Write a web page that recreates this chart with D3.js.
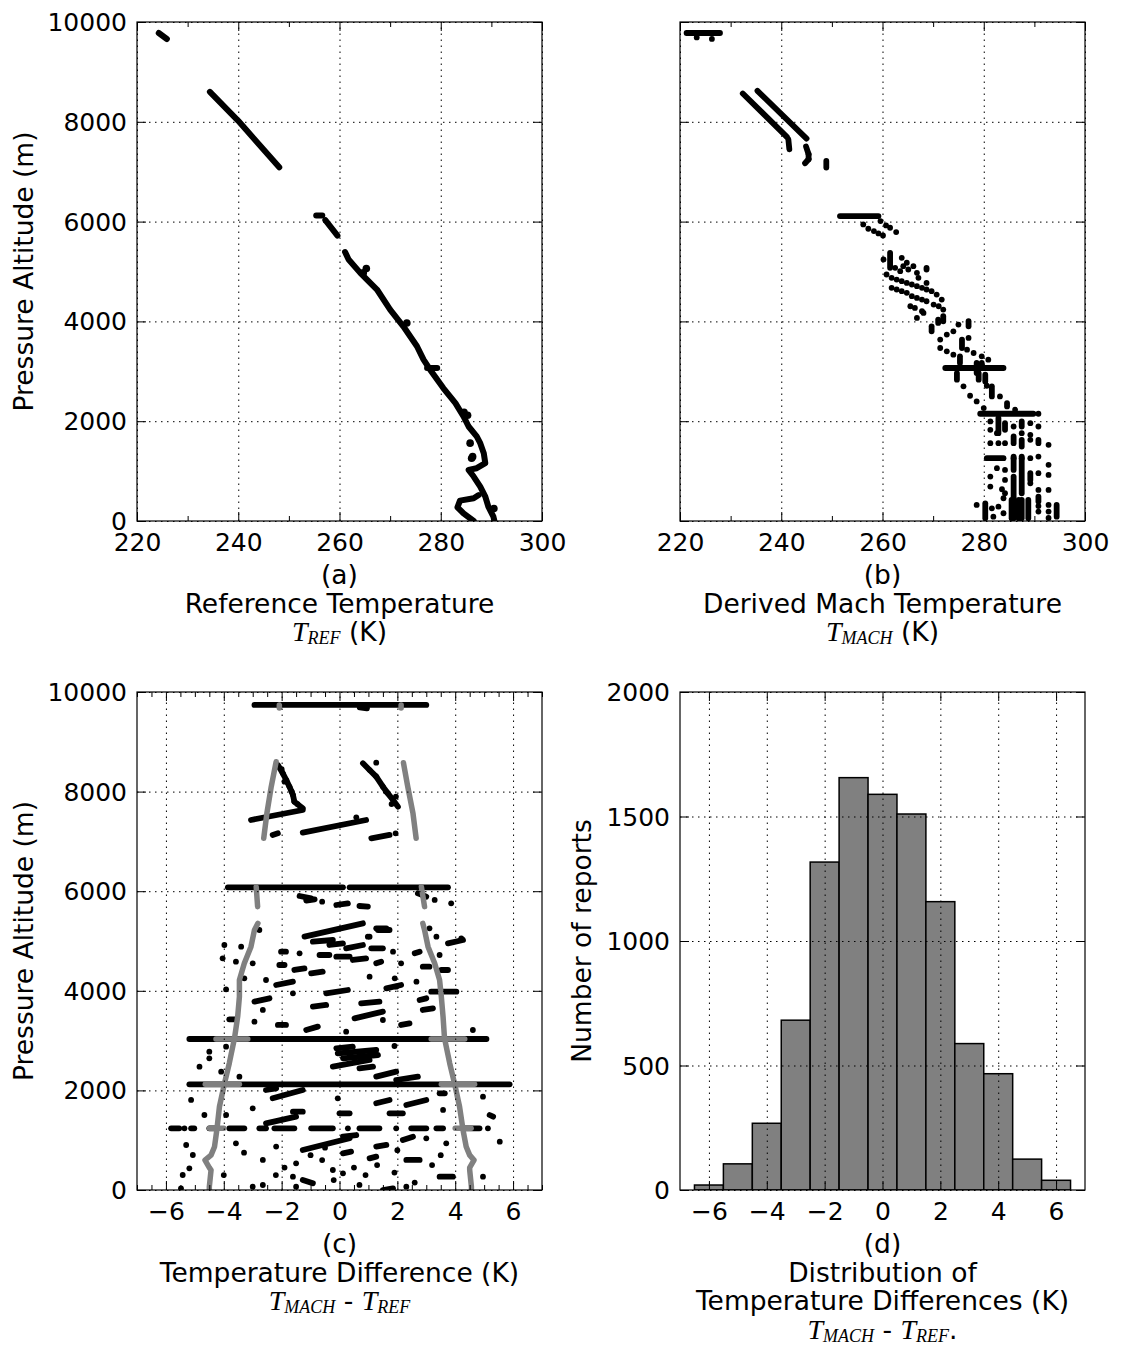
<!DOCTYPE html>
<html>
<head>
<meta charset="utf-8">
<script src="https://cdn.jsdelivr.net/npm/d3@7"></script>
<style>
  body { margin: 0; background: #fff; }
  text { font-family: "DejaVu Sans", sans-serif; }
</style>
</head>
<body>
<script>
// ---- data ----

// (a) reference temperature traces, [T (K), altitude (m)]
const refTraceTop = [[224.3, 9780], [225.9, 9660]];
const refTraceUpper = [[234.4, 8600], [240.0, 8020], [248.1, 7088]];
const refTraceShelf = [[255.4, 6120], [256.6, 6120]];
const refTraceShelf2 = [[257.2, 6030], [259.6, 5720]];
const refTraceMain = [[261.1, 5390], [261.8, 5241], [264.1, 4973], [267.4, 4639], [270.0, 4237],
  [272.6, 3902], [275.3, 3501], [276.6, 3233], [277.9, 3032], [280.5, 2664], [282.9, 2363],
  [284.5, 2095], [285.5, 1894], [287.1, 1694], [287.8, 1560], [288.5, 1359], [288.8, 1158],
  [287.1, 1058], [285.5, 1024], [286.5, 891], [287.8, 690], [288.8, 489], [289.4, 288],
  [290.4, 87], [290.6, 0]];
const refTraceLoop = [[287.5, 520], [286.5, 456], [283.8, 409], [283.3, 275], [284.5, 155], [286.5, 0]];
const refTraceNub = [[277.3, 3066], [279.3, 3066]];
const refBlobs = [[264.7, 4973], [265.3, 5060], [273.3, 3969], [284.6, 2180], [285.3, 2120],
  [285.8, 1560], [286.1, 1259], [286.3, 1290], [290.5, 250]];

// (b) derived Mach temperature, marks [T1, alt1, T2, alt2] (dots when ends match)
const machMarks = [
  [221.3, 9780, 227.9, 9780], [223.3, 9690, 223.3, 9690], [226.3, 9660, 226.3, 9660],
  [232.4, 8568, 241.1, 7698], [241.4, 7651, 241.6, 7450],
  [235.3, 8621, 245.0, 7664], [244.9, 7503, 245.4, 7350], [245.4, 7350, 245.4, 7249], [245.4, 7249, 244.7, 7169],
  [248.9, 7216, 248.9, 7082],
  [251.6, 6111, 259.2, 6111],
  [259.6, 6011, 259.6, 6011], [260.7, 5924, 260.7, 5924], [261.5, 5877, 261.5, 5877], [262.7, 5790, 262.7, 5790],
  [256.2, 5944, 256.2, 5944], [257.2, 5857, 257.2, 5857], [258.3, 5810, 258.3, 5810], [259.2, 5763, 259.2, 5763],
  [260.1, 5723, 260.1, 5723],
  [260.2, 5241, 260.2, 5241], [261.5, 5375, 261.5, 5074], [263.8, 5275, 263.8, 5275], [264.8, 5175, 264.8, 5175],
  [266.1, 5107, 266.1, 5107], [268.7, 5074, 268.7, 5074],
  [262.5, 5074, 262.5, 5074], [263.5, 5007, 263.5, 5007], [264.1, 5107, 264.1, 5107], [265.1, 5040, 265.1, 5040],
  [266.8, 4973, 266.8, 4973], [268.7, 5040, 268.7, 5040], [267.1, 4873, 267.1, 4873], [268.7, 4772, 268.7, 4772],
  [260.8, 4940, 260.8, 4940], [261.8, 4873, 261.8, 4873], [262.8, 4839, 262.8, 4839], [263.8, 4806, 263.8, 4806],
  [264.8, 4772, 264.8, 4772], [265.8, 4739, 265.8, 4739], [266.8, 4706, 266.8, 4706], [267.8, 4672, 267.8, 4672],
  [268.7, 4639, 268.7, 4639], [269.7, 4605, 269.7, 4605], [270.7, 4538, 270.7, 4538], [271.7, 4438, 271.7, 4438],
  [261.8, 4672, 261.8, 4672], [262.8, 4639, 262.8, 4639], [263.8, 4605, 263.8, 4605], [264.8, 4572, 264.8, 4572],
  [265.8, 4505, 265.8, 4505], [266.8, 4471, 266.8, 4471], [267.8, 4438, 267.8, 4438], [268.7, 4404, 268.7, 4404],
  [270.1, 4337, 270.1, 4337], [271.1, 4304, 271.1, 4304], [272.0, 4237, 272.0, 4237],
  [265.5, 4304, 265.5, 4304], [266.4, 4270, 266.4, 4270], [266.8, 4070, 266.8, 4070], [267.8, 4204, 267.8, 4204],
  [268.1, 4170, 268.1, 4170],
  [272.0, 4103, 272.0, 4003], [271.0, 4036, 271.0, 3969], [269.7, 3902, 269.7, 3802], [277.0, 4003, 277.0, 3902],
  [271.4, 3635, 271.4, 3635], [272.7, 3735, 272.7, 3735], [274.0, 3802, 274.0, 3802], [275.0, 3936, 275.0, 3936],
  [277.0, 3668, 277.0, 3668], [275.7, 3635, 275.7, 3467],
  [271.4, 3467, 271.4, 3467], [272.7, 3400, 272.7, 3400], [274.0, 3333, 274.0, 3333], [276.7, 3434, 276.7, 3434],
  [278.0, 3367, 278.0, 3367], [279.6, 3300, 279.6, 3300], [280.9, 3233, 280.9, 3233],
  [275.3, 3300, 275.3, 3166], [278.6, 3166, 278.6, 2965], [279.6, 3166, 279.6, 3066],
  [272.4, 3066, 283.9, 3066],
  [274.7, 2965, 274.7, 2832], [279.0, 2965, 279.0, 2832], [280.3, 2932, 280.3, 2798],
  [276.0, 2698, 276.0, 2698], [277.3, 2510, 277.3, 2510], [278.6, 2397, 278.6, 2397], [280.6, 2710, 280.6, 2710],
  [281.6, 2698, 281.6, 2497], [283.2, 2497, 283.2, 2497], [284.6, 2363, 284.6, 2296],
  [280.0, 2263, 280.0, 2263], [286.2, 2229, 286.2, 2229],
  [279.3, 2149, 289.8, 2149], [290.8, 2149, 290.8, 2149],
  [282.9, 2062, 282.9, 1761], [284.2, 1961, 284.2, 1828],
  [285.9, 1694, 285.9, 1560], [285.9, 1292, 285.9, 1024], [285.9, 890, 285.9, 54],
  [287.5, 1995, 287.5, 1894], [287.5, 1627, 287.5, 1493], [287.5, 1292, 287.5, 556], [287.5, 422, 287.5, 54],
  [289.2, 958, 289.2, 824], [288.8, 422, 288.8, 54], [286.9, 422, 286.9, 54], [285.5, 422, 285.5, 54],
  [280.3, 355, 280.3, 54], [294.4, 322, 294.4, 87], [290.8, 489, 290.8, 389], [290.8, 1627, 290.8, 1560],
  [280.6, 1259, 283.9, 1259],
  [281.3, 1995, 281.3, 1995], [285.9, 1894, 285.9, 1894], [289.2, 1961, 289.2, 1961], [290.8, 1894, 290.8, 1894],
  [281.3, 1828, 281.3, 1828], [282.6, 1761, 282.6, 1761], [287.5, 1761, 287.5, 1761], [289.2, 1727, 289.2, 1727],
  [281.3, 1560, 281.3, 1560], [282.9, 1560, 282.9, 1560], [284.2, 1560, 284.2, 1560], [289.2, 1627, 289.2, 1627],
  [292.8, 1526, 292.8, 1526],
  [285.9, 1259, 285.9, 1259], [287.5, 1259, 287.5, 1259], [289.2, 1259, 289.2, 1259], [290.8, 1292, 290.8, 1292],
  [282.6, 1058, 282.6, 1058], [284.2, 1024, 284.2, 1024], [290.8, 958, 290.8, 958], [292.8, 1125, 292.8, 1125],
  [292.8, 924, 292.8, 924],
  [281.3, 891, 281.3, 891], [284.2, 824, 284.2, 824], [281.3, 690, 281.3, 690], [283.6, 636, 283.6, 636],
  [289.2, 757, 289.2, 757], [290.8, 623, 290.8, 623], [292.8, 623, 292.8, 623],
  [278.6, 322, 278.6, 322], [281.6, 255, 281.6, 255], [282.9, 288, 282.9, 288], [283.9, 456, 283.9, 456],
  [292.8, 322, 292.8, 322], [292.8, 188, 292.8, 188], [290.8, 188, 290.8, 188], [283.9, 155, 283.9, 155],
  [281.9, 87, 281.9, 87], [284.2, 556, 284.2, 556], [290.8, 300, 290.8, 300], [292.8, 60, 292.8, 60]
];

// (c) temperature difference, black marks [d1, alt1, d2, alt2]
const diffMarks = [
  [-2.94, 9740, 3.0, 9740], [0.7, 9690, 0.95, 9670],
  [-2.13, 8534, -1.96, 8367], [-1.96, 8367, -1.84, 8233], [-1.84, 8233, -1.73, 8099], [-1.73, 8099, -1.61, 7932],
  [-1.61, 7932, -1.56, 7798], [-1.56, 7798, -1.27, 7664],
  [-1.9, 8200, -1.9, 8200], [-1.65, 8000, -1.65, 8000], [-1.45, 7750, -1.45, 7750], [-2.0, 8450, -2.0, 8450],
  [-3.06, 7430, -1.27, 7631], [-2.31, 7129, -2.13, 7162], [-1.27, 7176, 0.92, 7430], [0.58, 7484, 0.58, 7484],
  [0.81, 8568, 1.04, 8434], [1.04, 8434, 1.27, 8300], [1.27, 8300, 1.5, 8099], [1.5, 8099, 1.67, 7965],
  [1.67, 7965, 1.85, 7831], [1.85, 7831, 2.02, 7698],
  [1.27, 8580, 1.27, 8580], [1.6, 8000, 1.6, 8000], [1.95, 7900, 1.95, 7900], [1.8, 7750, 1.8, 7750],
  [1.10, 7062, 1.73, 7129], [1.94, 7162, 1.94, 7162],
  [-3.86, 6078, 0.12, 6078], [0.35, 6078, 3.75, 6078],
  [-1.38, 5904, -0.98, 5857], [-1.15, 5810, -0.86, 5837], [-0.11, 5723, 0.29, 5757], [0.69, 5703, 0.98, 5690],
  [2.71, 5958, 3.0, 5891], [-0.6, 5790, -0.6, 5790], [3.29, 5824, 3.29, 5824], [3.86, 5757, 3.86, 5757],
  [-1.21, 5087, 0.81, 5355], [1.27, 5254, 1.62, 5254], [1.04, 5087, 1.04, 5087], [-2.77, 5221, -2.77, 5221],
  [3.11, 5254, 3.11, 5254], [3.35, 5087, 3.35, 5087], [4.21, 5054, 4.21, 5054],
  [-0.92, 4987, -0.23, 5020], [-0.35, 4920, 0.12, 4953], [0.23, 4853, 0.81, 4920], [0.98, 5087, 0.98, 5087],
  [1.33, 5221, 1.73, 5221],
  [-3.98, 4920, -3.98, 4920], [-3.4, 4886, -3.4, 4886], [-4.04, 4652, -4.04, 4652], [-3.58, 4585, -3.58, 4585],
  [-2.02, 4786, -1.85, 4786], [-1.38, 4752, -1.38, 4752], [-0.69, 4719, -0.35, 4719], [-0.11, 4685, 0.35, 4685],
  [0.46, 4619, 0.92, 4652], [1.1, 4853, 1.5, 4853], [1.85, 4786, 1.85, 4786], [1.27, 4552, 1.44, 4585],
  [2.13, 4552, 2.13, 4552], [2.6, 4752, 2.77, 4786], [3.46, 4719, 3.46, 4719], [3.75, 4953, 4.27, 5020],
  [-3.0, 4552, -3.0, 4552], [-2.08, 4518, -1.9, 4518], [-1.56, 4418, -1.21, 4451], [-0.98, 4351, -0.58, 4385],
  [1.04, 4284, 1.04, 4284], [1.91, 4251, 1.91, 4251], [1.96, 4083, 1.96, 4083], [2.88, 4485, 3.11, 4485],
  [3.52, 4418, 3.75, 4418], [-3.29, 4251, -3.29, 4251], [-2.54, 4217, -2.54, 4217], [-2.19, 4117, -1.61, 4184],
  [-0.46, 3949, 0.29, 4016], [1.62, 4050, 2.13, 4117], [2.66, 4184, 2.66, 4184], [-1.61, 3949, -1.61, 3949],
  [-3.92, 4030, -3.92, 4030], [-2.94, 3782, -2.42, 3849], [-0.92, 3682, -0.46, 3715], [0.75, 3749, 1.38, 3782],
  [2.77, 3815, 3.0, 3849], [3.17, 3983, 4.04, 3983], [-2.65, 3615, -2.65, 3615], [0.52, 3447, 1.5, 3581],
  [1.5, 3414, 1.5, 3414], [2.88, 3615, 3.23, 3648], [-3.81, 3427, -3.58, 3427], [-2.94, 3380, -2.94, 3380],
  [-2.13, 3314, -1.85, 3314], [-1.15, 3213, -0.75, 3280], [0.23, 3180, 0.23, 3180], [2.13, 3314, 2.42, 3347],
  [4.61, 3213, 4.61, 3213],
  [-5.19, 3032, 5.08, 3032],
  [-4.5, 2778, -4.5, 2778], [-4.5, 2644, -4.5, 2644], [-4.84, 2477, -4.84, 2477], [-4.09, 2377, -4.09, 2377],
  [-3.92, 2878, -3.92, 2878], [1.9, 2892, 1.9, 2892], [-3.46, 2276, -3.46, 2276],
  [-0.11, 2845, 0.46, 2878], [-0.06, 2744, 1.27, 2811], [0.12, 2644, 1.33, 2711], [-0.23, 2477, 1.04, 2611],
  [0.69, 2444, 1.16, 2477], [1.27, 2276, 1.96, 2377], [1.96, 2209, 2.71, 2276],
  [-5.19, 2122, 5.88, 2122],
  [-2.54, 2008, -2.19, 2042], [-2.31, 1841, -1.27, 2008], [-0.06, 1841, -0.06, 1841], [1.27, 1741, 1.73, 1808],
  [2.31, 1707, 3.0, 1808], [3.46, 1942, 3.64, 1942], [4.96, 1875, 4.96, 1875], [-5.13, 1808, -5.13, 1808],
  [-3.0, 1640, -3.0, 1640], [-2.54, 1339, -1.5, 1473], [-1.61, 1573, -1.27, 1573], [0.0, 1540, 0.35, 1540],
  [1.73, 1540, 2.19, 1540], [3.58, 1607, 3.58, 1607], [5.19, 1506, 5.31, 1473], [-4.67, 1506, -4.67, 1506],
  [-3.92, 1506, -3.92, 1506],
  [-5.82, 1239, -5.54, 1239], [-5.36, 1239, -5.36, 1239], [-5.13, 1239, -5.02, 1239], [-4.5, 1239, -4.21, 1239],
  [-3.81, 1239, -3.29, 1239], [-2.77, 1239, -2.54, 1239], [-2.25, 1239, -1.56, 1239], [-0.98, 1239, -0.23, 1239],
  [0.29, 1239, 0.29, 1239], [0.69, 1239, 1.38, 1239], [1.96, 1239, 1.96, 1239], [2.48, 1239, 3.0, 1239],
  [3.35, 1239, 3.58, 1239], [4.27, 1239, 4.84, 1239], [5.13, 1239, 5.13, 1239],
  [-1.27, 803, 0.35, 1038], [0.12, 1071, 0.58, 1104], [1.27, 871, 1.62, 904], [2.19, 1004, 2.54, 1071],
  [3.0, 1038, 3.0, 1038], [5.54, 971, 5.54, 971],
  [-5.3, 904, -5.3, 904], [-5.07, 703, -5.07, 703], [-5.19, 435, -5.19, 435], [-5.42, 301, -5.42, 301],
  [-5.48, 34, -5.48, 34], [-3.58, 937, -3.58, 937], [-2.19, 871, -2.19, 871],
  [0.12, 736, 0.4, 770], [1.04, 636, 1.27, 670], [2.31, 603, 2.77, 603], [-2.65, 603, -2.65, 603],
  [-1.5, 536, -1.5, 536], [-1.61, 268, -1.61, 268], [-1.5, 67, -1.5, 67], [-0.23, 402, -0.23, 402],
  [0.12, 335, 0.12, 335], [0.69, 101, 0.69, 101], [-1.27, 201, -0.92, 134], [1.5, 0, 1.85, 34],
  [2.31, 67, 2.31, 67], [4.96, 268, 4.96, 268], [3.69, 937, 3.69, 937], [3.46, 268, 3.92, 268],
  [-3.0, 67, -3.0, 67], [-2.65, 100, -2.65, 100], [-2.2, 300, -2.2, 300], [-1.9, 450, -1.9, 450],
  [-0.6, 600, -0.6, 600], [-0.2, 200, -0.2, 200], [0.5, 450, 0.5, 450], [0.9, 300, 0.9, 300],
  [1.3, 500, 1.3, 500], [1.9, 350, 1.9, 350], [2.6, 150, 2.6, 150], [3.2, 500, 3.2, 500],
  [3.5, 700, 3.5, 700], [-3.3, 750, -3.3, 750], [-4.0, 300, -4.0, 300], [2.0, 800, 2.0, 800],
  [-1.0, 700, -1.0, 700], [-0.5, 850, -0.5, 850]
];

// (c) grey envelope curves, [d, alt]
const greyLeftTop = [[-2.08, 9740], [-2.08, 9680]];
const greyRightTop = [[2.13, 9740], [2.13, 9680]];
const greyLeftUpper = [[-2.19, 8601], [-2.36, 8099], [-2.51, 7564], [-2.62, 7062]];
const greyRightUpper = [[2.21, 8581], [2.36, 8099], [2.54, 7564], [2.65, 7062]];
const greyLeftShelf = [[-2.88, 6091], [-2.83, 5690]];
const greyRightShelf = [[2.83, 6091], [2.94, 5690]];
const greyLeftLower = [[-2.82, 5355], [-2.94, 5221], [-3.06, 4886], [-3.29, 4552], [-3.46, 4217], [-3.46, 3882],
  [-3.52, 3481], [-3.63, 3046], [-3.81, 2544], [-3.98, 2129], [-4.15, 1674], [-4.24, 1205], [-4.32, 870],
  [-4.44, 700], [-4.65, 600], [-4.5, 450], [-4.44, 400], [-4.5, 67], [-4.5, 0]];
const greyRightLower = [[2.88, 5355], [2.94, 5221], [3.06, 4886], [3.29, 4552], [3.46, 4217], [3.52, 3882],
  [3.58, 3481], [3.63, 3046], [3.81, 2544], [3.98, 2129], [4.15, 1674], [4.27, 1205], [4.38, 870],
  [4.5, 700], [4.65, 600], [4.5, 450], [4.5, 400], [4.56, 67], [4.56, 0]];
const greyBars = [[-4.27, 3032, -3.17, 3032], [3.17, 3032, 4.33, 3032], [-4.64, 2122, -3.46, 2122],
  [3.52, 2122, 4.67, 2122], [-4.5, 1239, -4.0, 1239], [4.0, 1239, 4.55, 1239]];

// (d) histogram, bin centres (K) and counts
const histCentres = [-6, -5, -4, -3, -2, -1, 0, 1, 2, 3, 4, 5, 6];
const histCounts = [20, 105, 268, 682, 1317, 1656, 1589, 1510, 1158, 588, 467, 124, 39];

// tick values
const tempTicks = [220, 240, 260, 280, 300];
const tempMinor = [230, 250, 270, 290];
const altTicks = [0, 2000, 4000, 6000, 8000, 10000];
const diffTicks = [-6, -4, -2, 0, 2, 4, 6];
const diffMinor = [-7, -6.5, -5.5, -5, -4.5, -3.5, -3, -2.5, -1.5, -1, -0.5, 0.5, 1, 1.5, 2.5, 3, 3.5, 4.5, 5, 5.5, 6.5, 7];
const countTicks = [0, 500, 1000, 1500, 2000];

// ---- drawing ----
const svg = d3.select("body").append("svg").attr("width", 1121).attr("height", 1347);
const FS = 25;     // tick labels
const LFS = 26.5;  // axis labels / captions
let clipN = 0;

function makePanel(box, xDom, yDom) {
  const x = d3.scaleLinear().domain(xDom).range([box.l, box.r]);
  const y = d3.scaleLinear().domain(yDom).range([box.b, box.t]);
  const id = "clip" + clipN++;
  svg.append("clipPath").attr("id", id).append("rect")
    .attr("x", box.l).attr("y", box.t).attr("width", box.r - box.l).attr("height", box.b - box.t);
  const plot = svg.append("g").attr("clip-path", `url(#${id})`);
  return { x, y, box, plot };
}

function styleAxis(g) {
  g.select(".domain").remove();
  g.selectAll(".tick line").attr("stroke", "#000").attr("stroke-width", 1);
  g.selectAll("text").attr("font-size", FS).attr("font-family", "DejaVu Sans").attr("fill", "#000");
  g.attr("font-size", FS).attr("font-family", "DejaVu Sans");
}

function finishPanel(p, o) {
  const { x, y, box } = p;
  const w = box.r - box.l, h = box.b - box.t;
  // grid (drawn on top, classic style)
  const grid = svg.append("g");
  grid.append("g").attr("transform", `translate(0,${box.b})`)
    .call(d3.axisBottom(x).tickValues(o.xTicks).tickSize(-h).tickFormat(""))
    .call(g => { g.select(".domain").remove(); });
  grid.append("g").attr("transform", `translate(${box.l},0)`)
    .call(d3.axisLeft(y).tickValues(o.yTicks).tickSize(-w).tickFormat(""))
    .call(g => { g.select(".domain").remove(); });
  grid.selectAll(".tick line").attr("stroke", "#000").attr("stroke-width", 1)
    .attr("stroke-dasharray", "1.5,4.5");

  // ticks, inward on all sides
  svg.append("g").attr("transform", `translate(0,${box.b})`)
    .call(d3.axisBottom(x).tickValues(o.xTicks).tickSize(-9).tickPadding(12).tickFormat(d3.format("d")))
    .call(styleAxis);
  svg.append("g").attr("transform", `translate(0,${box.t})`)
    .call(d3.axisTop(x).tickValues(o.xTicks).tickSize(-9).tickFormat(""))
    .call(styleAxis);
  if (o.xMinor) {
    svg.append("g").attr("transform", `translate(0,${box.b})`)
      .call(d3.axisBottom(x).tickValues(o.xMinor).tickSize(-5).tickFormat("")).call(styleAxis);
    svg.append("g").attr("transform", `translate(0,${box.t})`)
      .call(d3.axisTop(x).tickValues(o.xMinor).tickSize(-5).tickFormat("")).call(styleAxis);
  }
  svg.append("g").attr("transform", `translate(${box.l},0)`)
    .call(d3.axisLeft(y).tickValues(o.yTicks).tickSize(-9).tickPadding(10)
      .tickFormat(o.yLabels ? d3.format("d") : ""))
    .call(styleAxis)
    .call(g => g.selectAll("text").attr("dy", "0.34em"));
  svg.append("g").attr("transform", `translate(${box.r},0)`)
    .call(d3.axisRight(y).tickValues(o.yTicks).tickSize(-9).tickFormat(""))
    .call(styleAxis);

  // frame
  svg.append("rect").attr("x", box.l).attr("y", box.t).attr("width", w).attr("height", h)
    .attr("fill", "none").attr("stroke", "#000").attr("stroke-width", 1.2);

  // y label
  if (o.yTitle) {
    svg.append("text").attr("transform", `translate(${o.yTitleX},${(box.t + box.b) / 2}) rotate(-90)`)
      .attr("text-anchor", "middle").attr("font-size", LFS).text(o.yTitle);
  }

  // captions under the panel
  const cx = (box.l + box.r) / 2;
  o.captions.forEach((c, i) => {
    const t = svg.append("text").attr("x", cx).attr("y", box.b + 63 + i * 28.5)
      .attr("text-anchor", "middle").attr("font-size", LFS);
    let shift = 0;
    c.forEach(part => {
      if (part.math) {
        t.append("tspan").attr("font-family", "Liberation Serif, serif").attr("font-style", "italic")
          .attr("font-size", 28).attr("dy", -shift).text("T");
        t.append("tspan").attr("font-family", "Liberation Serif, serif").attr("font-style", "italic")
          .attr("font-size", 18).attr("dy", 3).text(part.math);
        shift = 3;
      } else {
        t.append("tspan").attr("dy", -shift).text(part.text);
        shift = 0;
      }
    });
  });
}

function drawMarks(p, marks, width, color) {
  p.plot.selectAll(null).data(marks.filter(m => m[0] !== m[2] || m[1] !== m[3])).enter()
    .append("line")
    .attr("x1", d => p.x(d[0])).attr("y1", d => p.y(d[1]))
    .attr("x2", d => p.x(d[2])).attr("y2", d => p.y(d[3]))
    .attr("stroke", color).attr("stroke-width", width).attr("stroke-linecap", "round");
  p.plot.selectAll(null).data(marks.filter(m => m[0] === m[2] && m[1] === m[3])).enter()
    .append("circle")
    .attr("cx", d => p.x(d[0])).attr("cy", d => p.y(d[1])).attr("r", width / 2)
    .attr("fill", color);
}

function drawTrace(p, pts, width, color) {
  const line = d3.line().x(d => p.x(d[0])).y(d => p.y(d[1]));
  p.plot.append("path").attr("d", line(pts)).attr("fill", "none")
    .attr("stroke", color).attr("stroke-width", width)
    .attr("stroke-linecap", "round").attr("stroke-linejoin", "round");
}

// (a)
const pa = makePanel({ l: 137, r: 542, t: 22, b: 521 }, [220, 300], [0, 10000]);
[refTraceTop, refTraceUpper, refTraceShelf, refTraceShelf2, refTraceMain, refTraceLoop, refTraceNub]
  .forEach(tr => drawTrace(pa, tr, 6, "#000"));
pa.plot.selectAll(null).data(refBlobs).enter().append("circle")
  .attr("cx", d => pa.x(d[0])).attr("cy", d => pa.y(d[1])).attr("r", 3.8).attr("fill", "#000");
finishPanel(pa, {
  xTicks: tempTicks, xMinor: tempMinor, yTicks: altTicks, yLabels: true,
  yTitle: "Pressure Altitude (m)", yTitleX: 33,
  captions: [[{ text: "(a)" }], [{ text: "Reference Temperature" }], [{ math: "REF" }, { text: " (K)" }]]
});

// (b)
const pb = makePanel({ l: 680, r: 1085, t: 22, b: 521 }, [220, 300], [0, 10000]);
drawMarks(pb, machMarks, 5.8, "#000");
finishPanel(pb, {
  xTicks: tempTicks, xMinor: tempMinor, yTicks: altTicks, yLabels: false,
  captions: [[{ text: "(b)" }], [{ text: "Derived Mach Temperature" }], [{ math: "MACH" }, { text: " (K)" }]]
});

// (c)
const pc = makePanel({ l: 137, r: 542, t: 692, b: 1190 }, [-7, 7], [0, 10000]);
drawMarks(pc, diffMarks, 5.8, "#000");
[greyLeftTop, greyRightTop, greyLeftUpper, greyRightUpper, greyLeftShelf, greyRightShelf, greyLeftLower, greyRightLower]
  .forEach(tr => drawTrace(pc, tr, 5.5, "#808080"));
drawMarks(pc, greyBars, 5.5, "#808080");
finishPanel(pc, {
  xTicks: diffTicks, xMinor: diffMinor, yTicks: altTicks, yLabels: true,
  yTitle: "Pressure Altitude (m)", yTitleX: 33,
  captions: [[{ text: "(c)" }], [{ text: "Temperature Difference (K)" }],
    [{ math: "MACH" }, { text: " - " }, { math: "REF" }]]
});

// (d)
const pd = makePanel({ l: 680, r: 1085, t: 692, b: 1190 }, [-7, 7], [0, 2000]);
pd.plot.selectAll("rect").data(histCentres).enter().append("rect")
  .attr("x", d => pd.x(d - 0.5)).attr("width", d => pd.x(d + 0.5) - pd.x(d - 0.5))
  .attr("y", (d, i) => pd.y(histCounts[i])).attr("height", (d, i) => pd.y(0) - pd.y(histCounts[i]))
  .attr("fill", "#808080").attr("stroke", "#000").attr("stroke-width", 1.5);
finishPanel(pd, {
  xTicks: diffTicks, yTicks: countTicks, yLabels: true,
  yTitle: "Number of reports", yTitleX: 591,
  captions: [[{ text: "(d)" }], [{ text: "Distribution of" }], [{ text: "Temperature Differences (K)" }],
    [{ math: "MACH" }, { text: " - " }, { math: "REF" }, { text: "." }]]
});
</script>
</body>
</html>
